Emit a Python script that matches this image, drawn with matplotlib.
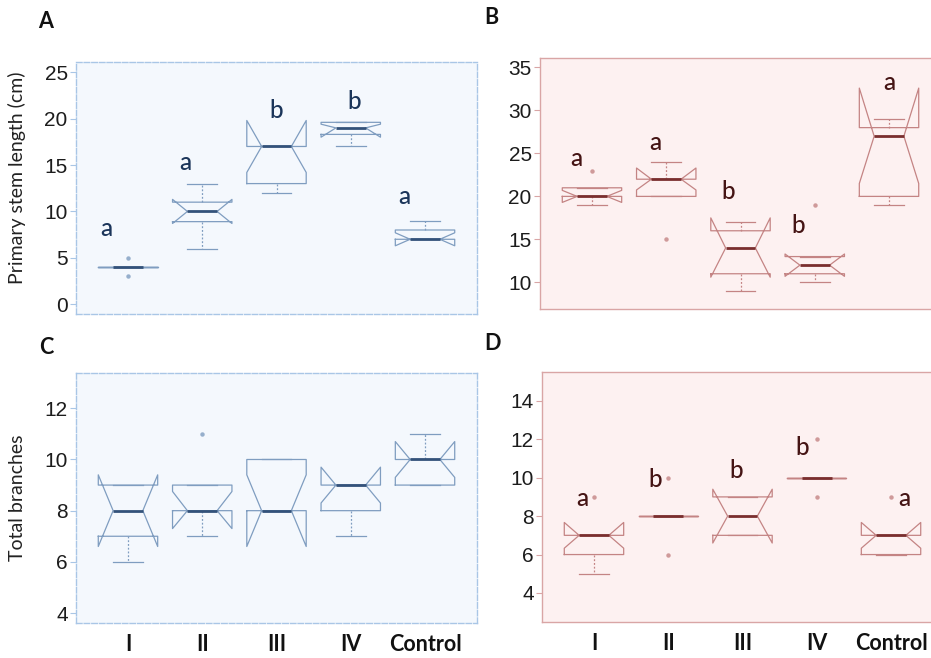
import matplotlib
matplotlib.use("Agg")
from matplotlib import pyplot as plt

W, H = 931, 658

groups = ["I", "II", "III", "IV", "Control"]

# panel A: primary stem length (cm), treatment 1
A_q1 = [4, 8.9, 13, 18.3, 7]
A_med = [4, 10, 17, 19, 7]
A_q3 = [4, 11, 17, 19.6, 8]
A_lo = [4, 6, 12, 17, 7]
A_hi = [4, 13, 17, 19.6, 9]
A_cilo = [4, 8.7, 14.2, 18.0, 6.3]
A_cihi = [4, 11.3, 19.8, 19.4, 7.7]
A_out = [[3, 5], [], [], [], []]
A_let = ["a", "a", "b", "b", "a"]
A_let_x = [0.71, 1.77, 3.0, 4.05, 4.72]
A_let_y = [8.2, 15.3, 20.9, 21.8, 11.6]

# panel B: primary stem length (cm), treatment 2
B_q1 = [20, 20, 11, 11, 20]
B_med = [20, 22, 14, 12, 27]
B_q3 = [21, 22, 16, 13, 28]
B_lo = [19, 20, 9, 10, 19]
B_hi = [21, 24, 17, 13, 29]
B_cilo = [19.3, 20.75, 10.6, 10.7, 21.5]
B_cihi = [20.7, 23.3, 17.5, 13.3, 32.6]
B_out = [[23], [15], [], [19], []]
B_let = ["a", "a", "b", "b", "a"]
B_let_x = [0.79, 1.85, 2.83, 3.78, 5.0]
B_let_y = [24.4, 26.3, 20.6, 16.6, 33.2]

# panel C: total branches, treatment 1
C_q1 = [7, 8, 8, 8, 9]
C_med = [8, 8, 8, 9, 10]
C_q3 = [9, 9, 10, 9, 10]
C_lo = [6, 7, 8, 7, 9]
C_hi = [9, 9, 10, 9, 11]
C_cilo = [6.6, 7.3, 6.6, 8.3, 9.3]
C_cihi = [9.4, 8.75, 9.4, 9.7, 10.7]
C_out = [[], [11], [], [], []]

# panel D: total branches, treatment 2
D_q1 = [6, 8, 7, 10, 6]
D_med = [7, 8, 8, 10, 7]
D_q3 = [7, 8, 9, 10, 7]
D_lo = [5, 8, 7, 10, 6]
D_hi = [7, 8, 9, 10, 7]
D_cilo = [6.33, 8, 6.6, 10, 6.33]
D_cihi = [7.67, 8, 9.4, 10, 7.67]
D_out = [[9], [10, 6], [], [12, 9], [9]]
D_let = ["a", "b", "b", "b", "a"]
D_let_x = [0.84, 1.82, 2.91, 3.81, 5.18]
D_let_y = [8.93, 9.93, 10.4, 11.58, 8.93]

BLUE = dict(bg="#f4f8fd", edge="#a9c6e6", box="#7f9dc0", med="#33527a", txt="#1b355a")
PINK = dict(bg="#fdf1f1", edge="#d9a5a5", box="#c48484", med="#7a2e2e", txt="#451414")


def place(left, top, right, bottom):
    return [left / W, 1 - bottom / H, (right - left) / W, (bottom - top) / H]


def make_stats(q1, med, q3, lo, hi, cilo, cihi, out):
    stats = []
    for i in range(len(med)):
        stats.append(dict(q1=q1[i], med=med[i], q3=q3[i], whislo=lo[i], whishi=hi[i],
                          cilo=cilo[i], cihi=cihi[i], fliers=out[i], mean=med[i]))
    return stats


def draw_panel(ax, stats, pal, ylim, yticks):
    ax.set_facecolor(pal["bg"])
    ax.bxp(stats, positions=range(1, 6), widths=0.8, shownotches=True, showmeans=False,
           boxprops=dict(color=pal["box"], lw=0.9),
           whiskerprops=dict(color=pal["box"], lw=0.9, linestyle=(0, (1.5, 1.5))),
           capprops=dict(color=pal["box"], lw=0.9),
           medianprops=dict(color=pal["med"], lw=2.0),
           flierprops=dict(marker="o", markersize=3.2, markerfacecolor=pal["box"],
                           markeredgecolor="none", alpha=0.8))
    ax.set_xlim(0.30, 5.70)
    ax.set_ylim(*ylim)
    ax.set_yticks(yticks)
    for s in ax.spines.values():
        s.set_color(pal["edge"])
        s.set_linewidth(1.0)
    ax.tick_params(axis="y", length=4, width=0.8, color=pal["edge"], labelsize=15,
                   labelcolor="#1c1c1c", pad=2)
    for t in ax.get_yticklabels():
        t.set_fontfamily("Liberation Sans")


fig = plt.figure(figsize=(W / 100, H / 100), dpi=100)
fig.patch.set_facecolor("white")

axA = fig.add_axes(place(76, 62, 477, 314))
axB = fig.add_axes(place(540, 58, 941, 309))
axC = fig.add_axes(place(76, 373, 477, 623))
axD = fig.add_axes(place(542, 372, 943, 622))

draw_panel(axA, make_stats(A_q1, A_med, A_q3, A_lo, A_hi, A_cilo, A_cihi, A_out), BLUE,
           (-1.05, 26.1), [0, 5, 10, 15, 20, 25])
draw_panel(axB, make_stats(B_q1, B_med, B_q3, B_lo, B_hi, B_cilo, B_cihi, B_out), PINK,
           (6.9, 36.1), [10, 15, 20, 25, 30, 35])
draw_panel(axC, make_stats(C_q1, C_med, C_q3, C_lo, C_hi, C_cilo, C_cihi, C_out), BLUE,
           (3.61, 13.38), [4, 6, 8, 10, 12])
draw_panel(axD, make_stats(D_q1, D_med, D_q3, D_lo, D_hi, D_cilo, D_cihi, D_out), PINK,
           (2.49, 15.5), [4, 6, 8, 10, 12, 14])

for s in axA.spines.values():
    s.set_linestyle((0, (4, 1.5)))
for s in axC.spines.values():
    s.set_linestyle((0, (4, 1.5)))

for ax in (axA, axB):
    ax.set_xticks([])
for ax in (axC, axD):
    ax.set_xticks(range(1, 6))
    ax.set_xticklabels(groups, fontfamily="Lato", fontweight="bold", fontsize=15.5)
    ax.tick_params(axis="x", length=0, pad=8, labelcolor="#111111")

for ax, lets, lx, ly, pal in ((axA, A_let, A_let_x, A_let_y, BLUE),
                              (axB, B_let, B_let_x, B_let_y, PINK),
                              (axD, D_let, D_let_x, D_let_y, PINK)):
    for t, x, y in zip(lets, lx, ly):
        ax.text(x, y, t, ha="center", va="center", fontsize=17.5, fontfamily="Lato",
                fontweight="medium", color=pal["txt"])

axA.set_ylabel("Primary stem length (cm)", fontfamily="Lato", fontsize=14, color="#222222")
axA.yaxis.set_label_coords(-0.125, 0.54)
axC.set_ylabel("Total branches", fontfamily="Lato", fontsize=14, color="#222222")
axC.yaxis.set_label_coords(-0.125, 0.5)

for lab, x, y in (("A", 46, 21), ("B", 491, 17), ("C", 46, 347), ("D", 492, 343)):
    fig.text(x / W, 1 - y / H, lab, ha="center", va="center", fontsize=15.5,
             fontweight="bold", fontfamily="Lato", color="#111111")

fig.savefig("out.png", dpi=100)
